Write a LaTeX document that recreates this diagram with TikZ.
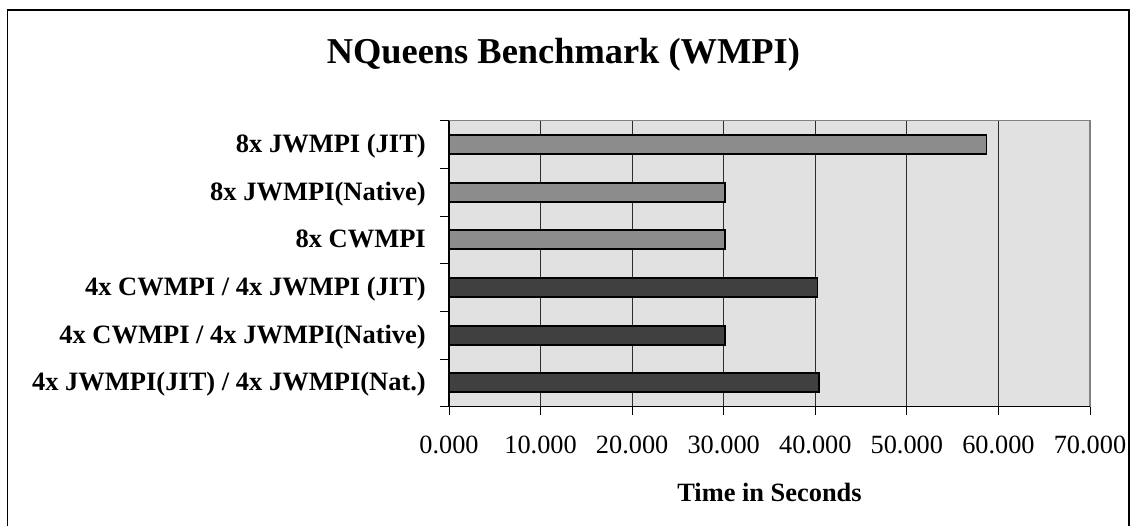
\documentclass[tikz,border=0pt]{standalone}
\usepackage{fontspec}
\setmainfont{Liberation Serif}
\definecolor{plotbg}{RGB}{225,225,225}
\definecolor{barlight}{RGB}{140,140,140}
\definecolor{bardark}{RGB}{64,64,64}
\definecolor{gridcol}{RGB}{45,45,45}
\definecolor{framecol}{RGB}{130,130,130}
\begin{document}
\begin{tikzpicture}[x=1pt,y=-1pt,
  titletext/.style={anchor=base,inner sep=0pt,font=\fontsize{36.4}{40}\selectfont\bfseries},
  catlabel/.style={anchor=base east,inner sep=0pt,font=\fontsize{26.5}{30}\selectfont\bfseries},
  ticklabel/.style={anchor=base,inner sep=0pt,font=\fontsize{26.3}{30}\selectfont},
  axistitle/.style={anchor=base,inner sep=0pt,font=\fontsize{26.4}{30}\selectfont\bfseries},
  barbox/.style={draw=black,line width=1.8pt},
  lightbar/.style={barbox,fill=barlight},
  darkbar/.style={barbox,fill=bardark},
  gridline/.style={draw=gridcol,line width=0.9pt},
  tickmark/.style={draw=black,line width=0.9pt}]
\useasboundingbox (0,0) rectangle (1133,526);
% outer chart frame
\draw[line width=1.8pt] (7.5,10) rectangle (1129,545);
\node[titletext] (title) at (563.4,63.3) {NQueens Benchmark (WMPI)};

% plot area: x in seconds, y in category slots (0 = bottom)
\begin{scope}[shift={(449,406.7)},x=9.157pt,y=47.67pt]
  \fill[plotbg] (0,0) rectangle (70,6);
  \foreach \v in {10,20,...,60} \draw[gridline] (\v,0) -- (\v,6);
  \draw[framecol,line width=1.3pt] (0,6) -- (70,6) -- (70,0);
  \draw[black,line width=1.1pt] (0,6) -- (0,0) -- (70,0);
  % value-axis ticks and labels
  \foreach \v/\t in {0/0.000,10/10.000,20/20.000,30/30.000,40/40.000,50/50.000,60/60.000,70/70.000} {
    \draw[tickmark] (\v,0) -- ([yshift=-8.5pt]\v,0);
    \node[ticklabel] (tick\v) at ([yshift=-47.3pt]\v,0) {\t};
  }
  % category-axis ticks
  \foreach \c in {0,...,6} \draw[tickmark] (0,\c) -- ([xshift=-9pt]0,\c);
  % bars
  \draw[darkbar]  (0,0.3) rectangle (40.4,0.7);
  \draw[darkbar]  (0,1.3) rectangle (30.15,1.7);
  \draw[darkbar]  (0,2.3) rectangle (40.25,2.7);
  \draw[lightbar] (0,3.3) rectangle (30.15,3.7);
  \draw[lightbar] (0,4.3) rectangle (30.15,4.7);
  \draw[lightbar] (0,5.3) rectangle (58.7,5.7);
  % category labels
  \node[catlabel] (cat0) at ([xshift=-23pt,yshift=-8pt]0,0.5) {4x JWMPI(JIT) / 4x JWMPI(Nat.)};
  \node[catlabel] (cat1) at ([xshift=-23pt,yshift=-8pt]0,1.5) {4x CWMPI / 4x JWMPI(Native)};
  \node[catlabel] (cat2) at ([xshift=-23pt,yshift=-8pt]0,2.5) {4x CWMPI / 4x JWMPI (JIT)};
  \node[catlabel] (cat3) at ([xshift=-23pt,yshift=-8pt]0,3.5) {8x CWMPI};
  \node[catlabel] (cat4) at ([xshift=-23pt,yshift=-8pt]0,4.5) {8x JWMPI(Native)};
  \node[catlabel] (cat5) at ([xshift=-23pt,yshift=-8pt]0,5.5) {8x JWMPI (JIT)};
  \node[axistitle] (xtitle) at ([yshift=-95pt]35,0) {Time in Seconds};
\end{scope}
\end{tikzpicture}
\end{document}
